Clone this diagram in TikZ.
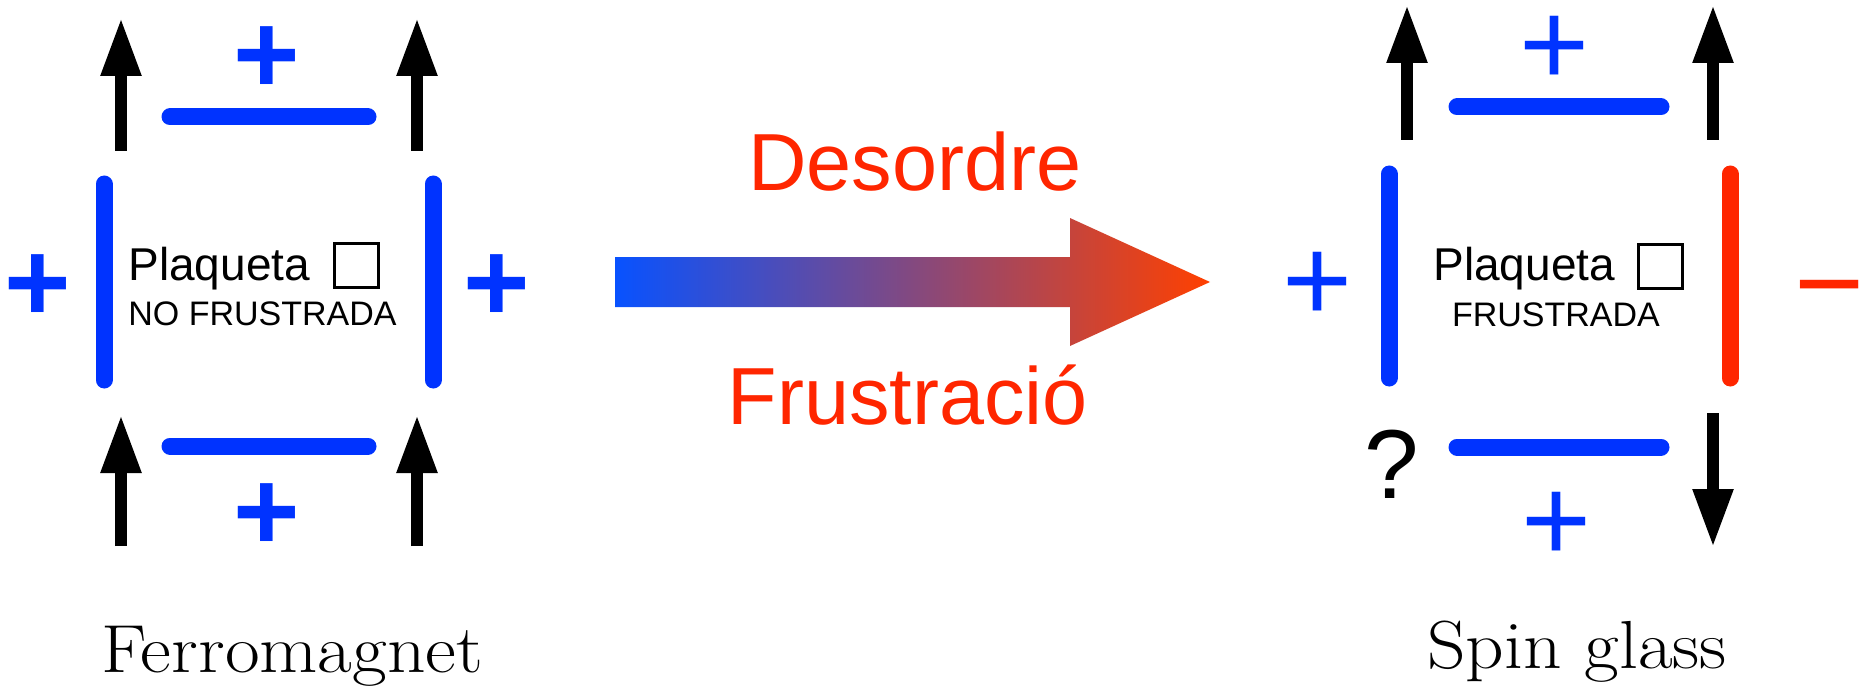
\documentclass[tikz,border=0pt]{standalone}
\usepackage{fontspec}
\setsansfont{Liberation Sans}
\newfontfamily\captionfont[FakeStretch=1.11]{Latin Modern Roman}
\usetikzlibrary{arrows.meta, positioning}
\definecolor{BondBlue}{RGB}{0,51,255}
\definecolor{BondRed}{RGB}{255,38,0}
\definecolor{ArrowBlue}{RGB}{8,82,255}
\definecolor{ArrowRed}{RGB}{255,64,0}

\begin{document}
\begin{tikzpicture}[x=0.5pt, y=-0.5pt,
    spin/.style={line width=5.75pt, -{Triangle[length=29pt, width=19pt]}},
    bond/.style={line width=8.5pt, line cap=round, BondBlue},
    thick sign/.style={text=BondBlue, inner sep=0pt, font=\sffamily\bfseries\fontsize{57}{57}\selectfont},
    thin sign/.style={text=BondBlue, inner sep=0pt, font=\sffamily\fontsize{60}{60}\selectfont},
    plaq/.style={inner sep=0pt, anchor=base west, font=\sffamily\fontsize{23}{23}\selectfont},
    plaqsub/.style={inner sep=0pt, font=\sffamily\fontsize{17}{17}\selectfont},
    plaqbox/.style={draw, line width=1.5pt, minimum size=22pt, inner sep=0pt},
    process/.style={text=BondRed, inner sep=0pt, anchor=base, font=\sffamily\fontsize{40.5}{40.5}\selectfont},
    caption/.style={inner sep=0pt, anchor=base west, font=\captionfont\fontsize{34}{34}\selectfont}]
    \useasboundingbox (0,0) rectangle (1864,690);

    % Ferromagnet: spins
    \draw[spin] (121,151) -- (121,18);
    \draw[spin] (417,151) -- (417,18);
    \draw[spin] (121,546) -- (121,415);
    \draw[spin] (417,546) -- (417,415);

    % Ferromagnet: bonds
    \draw[bond] (170,117) -- (368,117);
    \draw[bond] (170,446) -- (368,446);
    \draw[bond] (104,184) -- (104,380);
    \draw[bond] (433,184) -- (433,380);

    % Ferromagnet: signs of the couplings
    \node[thick sign] (jtopF) at (267,60) {+};
    \node[thick sign] (jbotF) at (267,517) {+};
    \node[thick sign] (jleftF) at (38,288) {+};
    \node[thick sign] (jrightF) at (497,288) {+};

    % Ferromagnet: plaquette
    \node[plaq] (plaqF) at (128,280) {Plaqueta};
    \node[plaqbox] (boxF) at (356,265.5) {};
    \node[plaqsub, anchor=base west] (stateF) at (128,325) {NO FRUSTRADA};

    % Gradient arrow
    \shade[left color=ArrowBlue, right color=ArrowRed]
        (615,257) -- (1070,257) -- (1070,218) -- (1210,282)
        -- (1070,346) -- (1070,307) -- (615,307) -- cycle;
    \node[process] (disorder) at (915,191) {Desordre};
    \node[process] (frustration) at (908,424) {Frustració};

    % Spin glass: spins
    \draw[spin] (1407,140) -- (1407,5);
    \draw[spin] (1713,140) -- (1713,5);
    \draw[spin] (1713,413) -- (1713,547);
    \node[inner sep=0pt, font=\sffamily\fontsize{49}{49}\selectfont] (unknown) at (1392,464) {?};

    % Spin glass: bonds
    \draw[bond] (1457,107) -- (1661,107);
    \draw[bond] (1457,447) -- (1661,447);
    \draw[bond] (1389,174) -- (1389,378);
    \draw[bond, BondRed] (1730,174) -- (1730,378);

    % Spin glass: signs of the couplings
    \node[thin sign] (jtopS) at (1555,51) {+};
    \node[thin sign] (jbotS) at (1557,527) {+};
    \node[thin sign] (jleftS) at (1318,287) {+};
    \node[thin sign, text=BondRed] (jrightS) at (1830,302) {−};

    % Spin glass: plaquette
    \node[plaq] (plaqS) at (1433,280) {Plaqueta};
    \node[plaqbox] (boxS) at (1660.5,266.5) {};
    \node[plaqsub, anchor=base] (stateS) at (1556,326) {FRUSTRADA};

    % Captions
    \node[caption] (ferro) at (101,672) {Ferromagnet};
    \node[caption] (glass) at (1427,668) {Spin glass};
\end{tikzpicture}
\end{document}
